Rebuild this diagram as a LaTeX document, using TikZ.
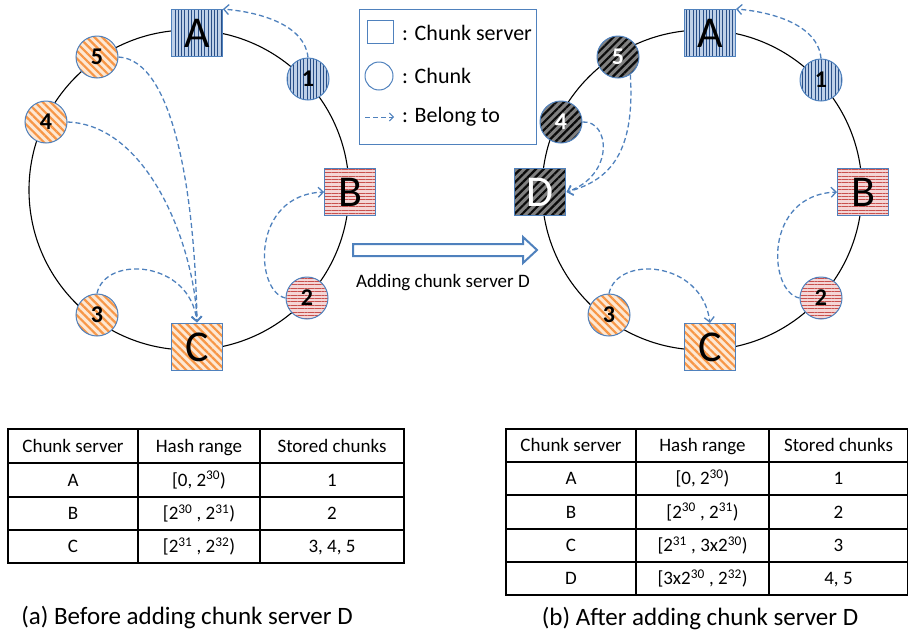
\documentclass[tikz,border=0pt]{standalone}
\usepackage{fontspec}
\setmainfont{Carlito}
\usetikzlibrary{patterns.meta,arrows.meta}
\definecolor{bordblue}{RGB}{79,129,189}
\definecolor{abg}{RGB}{190,208,232}
\definecolor{aline}{RGB}{40,78,135}
\definecolor{bbg}{RGB}{244,214,214}
\definecolor{bline}{RGB}{200,80,77}
\definecolor{cbg}{RGB}{253,232,212}
\definecolor{cline}{RGB}{247,150,70}
\definecolor{dbg}{RGB}{128,128,128}
\definecolor{dline}{RGB}{10,10,10}
\begin{document}
\begin{tikzpicture}[x=1pt,y=-1pt,
  ring/.style={draw=black, line width=1.1pt},
  server/.style={draw=bordblue, line width=1pt, minimum width=51pt, minimum height=47pt, inner sep=0pt, font=\fontsize{44}{44}\selectfont},
  chunk/.style={circle, draw=bordblue, line width=1pt, minimum size=42pt, inner sep=0pt, font=\fontsize{24}{24}\selectfont\bfseries},
  pa/.style={preaction={fill=abg}, pattern={Lines[angle=90,distance=3.3pt,line width=0.8pt]}, pattern color=aline},
  pb/.style={preaction={fill=bbg}, pattern={Lines[angle=0,distance=3.4pt,line width=0.8pt]}, pattern color=bline},
  pc/.style={preaction={fill=cbg}, pattern={Lines[angle=-45,distance=5.5pt,line width=2.2pt]}, pattern color=cline},
  pd/.style={preaction={fill=dbg}, pattern={Lines[angle=45,distance=5.5pt,line width=2.2pt]}, pattern color=dline, text=white},
  belong/.style={draw=bordblue, line width=1.3pt, dash pattern=on 5pt off 3pt, -{Straight Barb[length=5pt,width=10pt]}},
  tab/.style={draw=black, line width=1.5pt},
  cell/.style={font=\fontsize{19}{19}\selectfont, inner sep=0pt, text height=14pt, text depth=2pt},
  legtxt/.style={anchor=west, font=\fontsize{22}{22}\selectfont, inner sep=0pt},
  capt/.style={font=\fontsize{25}{25}\selectfont, inner sep=0pt}
]
\useasboundingbox (0,0) rectangle (909,635);

% ---------- left ring ----------
\draw[ring] (189,190) circle[radius=160pt];
\node[server,pa] (A) at (197,33) {A};
\node[server,pb] (B) at (350,192) {B};
\node[server,pc] (C) at (197,347) {C};
\node[chunk,pa] (c1) at (308,79) {1};
\node[chunk,pb] (c2) at (307,298) {2};
\node[chunk,pc] (c3) at (97,315) {3};
\node[chunk,pc] (c4) at (46,122) {4};
\node[chunk,pc] (c5) at (97,57) {5};

\draw[belong] (c1.north) .. controls (305,25) and (260,12) .. (A.north east);
\draw[belong] (c2.west) .. controls (255,292) and (250,195) .. (B.west);
\draw[belong] (c3.north) .. controls (105,255) and (190,260) .. (C.north);
\draw[belong] (c4.east) .. controls (150,125) and (195,250) .. (C.north);
\draw[belong] (c5.east) .. controls (175,60) and (195,200) .. (C.north);

% ---------- right ring ----------
\draw[ring] (702,190) circle[radius=160pt];
\node[server,pa] (A2) at (710,33) {A};
\node[server,pb] (B2) at (863,192) {B};
\node[server,pc] (C2) at (710,347) {C};
\node[server,pd] (D2) at (540,192) {D};
\node[chunk,pa] (d1) at (821,80) {1};
\node[chunk,pb] (d2) at (821,298) {2};
\node[chunk,pc] (d3) at (609,315) {3};
\node[chunk,pd] (d4) at (561,122) {4};
\node[chunk,pd] (d5) at (618,57) {5};

\draw[belong] (d1.north) .. controls (818,25) and (773,12) .. (A2.north east);
\draw[belong] (d2.west) .. controls (768,292) and (763,195) .. (B2.west);
\draw[belong] (d3.north) .. controls (617,255) and (702,260) .. (C2.north);
\draw[belong] (d4.east) .. controls (610,120) and (615,175) .. (D2.east);
\draw[belong] (d5.-55) .. controls (635,150) and (612,180) .. (D2.east);

% ---------- legend ----------
\node[draw=bordblue, line width=1pt, minimum width=177pt, minimum height=135pt, inner sep=0pt] (leg) at (447.5,76.5) {};
\node[draw=bordblue, line width=1pt, minimum width=26pt, minimum height=23pt, inner sep=0pt] (legsq) at (380,31.5) {};
\node[circle, draw=bordblue, line width=1pt, minimum size=28pt, inner sep=0pt] (legci) at (379,76) {};
\coordinate (lega) at (365,117);
\coordinate (legb) at (394,117);
\draw[belong, line width=1pt, -{Straight Barb[length=4pt,width=8pt]}] (lega) -- (legb);
\node[legtxt] (lt1) at (402,33) {: Chunk server};
\node[legtxt] (lt2) at (402,76) {: Chunk};
\node[legtxt] (lt3) at (402,117) {: Belong to};

% ---------- transition arrow ----------
\draw[draw=bordblue, line width=2pt, fill=white, line join=miter]
  (353,244) -- (523,244) -- (523,237) -- (537,250) -- (523,263) -- (523,256) -- (353,256) -- cycle;
\node[font=\fontsize{19}{19}\selectfont, inner sep=0pt] (addlbl) at (443,283) {Adding chunk server D};

% ---------- left table ----------
\draw[tab] (8,429) rectangle (404,563);
\draw[tab] (138,429) -- (138,563);
\draw[tab] (260,429) -- (260,563);
\draw[tab] (8,463) -- (404,463);
\draw[tab] (8,497) -- (404,497);
\draw[tab] (8,530) -- (404,530);
\node[cell] (la1) at (73,446) {Chunk server};
\node[cell] (la2) at (199,446) {Hash range};
\node[cell] (la3) at (332,446) {Stored chunks};
\node[cell] (lb1) at (73,480) {A};
\node[cell] (lb2) at (199,480) {[0, 2\textsuperscript{30})};
\node[cell] (lb3) at (332,480) {1};
\node[cell] (lc1) at (73,513.5) {B};
\node[cell] (lc2) at (199,513.5) {[2\textsuperscript{30} , 2\textsuperscript{31})};
\node[cell] (lc3) at (332,513.5) {2};
\node[cell] (ld1) at (73,546.5) {C};
\node[cell] (ld2) at (199,546.5) {[2\textsuperscript{31} , 2\textsuperscript{32})};
\node[cell] (ld3) at (332,546.5) {3, 4, 5};
\node[capt] (capa) at (187,617) {(a) Before adding chunk server D};

% ---------- right table ----------
\draw[tab] (506,429) rectangle (907.5,595);
\draw[tab] (636,429) -- (636,595);
\draw[tab] (769,429) -- (769,595);
\draw[tab] (506,462) -- (907.5,462);
\draw[tab] (506,495) -- (907.5,495);
\draw[tab] (506,529) -- (907.5,529);
\draw[tab] (506,562) -- (907.5,562);
\node[cell] (ra1) at (571,445.5) {Chunk server};
\node[cell] (ra2) at (702.5,445.5) {Hash range};
\node[cell] (ra3) at (838.5,445.5) {Stored chunks};
\node[cell] (rb1) at (571,478.5) {A};
\node[cell] (rb2) at (702.5,478.5) {[0, 2\textsuperscript{30})};
\node[cell] (rb3) at (838.5,478.5) {1};
\node[cell] (rc1) at (571,512) {B};
\node[cell] (rc2) at (702.5,512) {[2\textsuperscript{30} , 2\textsuperscript{31})};
\node[cell] (rc3) at (838.5,512) {2};
\node[cell] (rd1) at (571,545.5) {C};
\node[cell] (rd2) at (702.5,545.5) {[2\textsuperscript{31} , 3x2\textsuperscript{30})};
\node[cell] (rd3) at (838.5,545.5) {3};
\node[cell] (re1) at (571,578.5) {D};
\node[cell] (re2) at (702.5,578.5) {[3x2\textsuperscript{30} , 2\textsuperscript{32})};
\node[cell] (re3) at (838.5,578.5) {4, 5};
\node[capt] (capb) at (700,618) {(b) After adding chunk server D};
\end{tikzpicture}
\end{document}
